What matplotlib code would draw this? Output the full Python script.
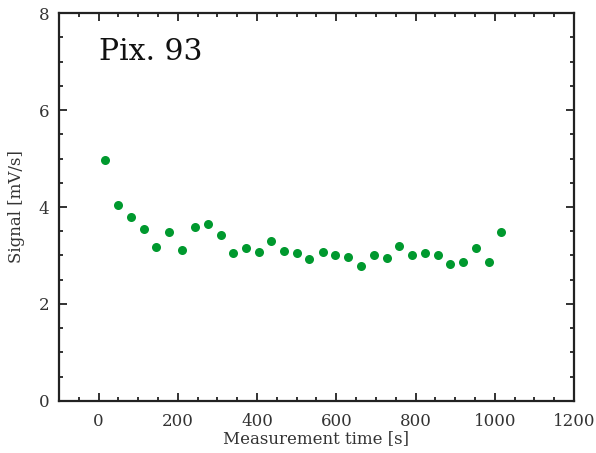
import numpy as np
import matplotlib
matplotlib.use("Agg")
import matplotlib.pyplot as plt
from matplotlib.ticker import MultipleLocator

time_s = [17, 49, 81, 114, 146, 178, 211, 243, 275, 308, 340, 372, 404, 436,
          469, 501, 531, 566, 598, 630, 662, 695, 727, 759, 792, 824, 856,
          888, 921, 953, 985, 1017]
signal = [4.96, 4.04, 3.79, 3.54, 3.18, 3.48, 3.11, 3.59, 3.65, 3.42, 3.05,
          3.16, 3.08, 3.30, 3.09, 3.05, 2.93, 3.08, 3.01, 2.97, 2.79, 3.02,
          2.94, 3.19, 3.02, 3.05, 3.00, 2.83, 2.87, 3.15, 2.87, 3.48]
label = "Pix. 93"

plt.rcParams['font.family'] = ['DejaVu Serif']

fig = plt.figure(figsize=(5.96, 4.53), dpi=100)
ax = fig.add_axes([0.099, 0.115, 0.864, 0.856])

ax.plot(time_s, signal, 'o', color='#00992e', markersize=6.5, markeredgewidth=0)

ax.set_xlim(-100, 1200)
ax.set_ylim(0, 8)
ax.xaxis.set_major_locator(MultipleLocator(200))
ax.xaxis.set_minor_locator(MultipleLocator(50))
ax.yaxis.set_major_locator(MultipleLocator(2))
ax.yaxis.set_minor_locator(MultipleLocator(0.5))
ax.tick_params(which='both', direction='in', top=True, right=True,
               width=1.3, colors='#222222', labelsize=12, labelcolor='#333333')
ax.tick_params(axis='x', which='major', length=6, pad=9)
ax.tick_params(axis='y', which='major', length=6, pad=7)
ax.tick_params(which='minor', length=3)
for s in ax.spines.values():
    s.set_linewidth(1.6)
    s.set_color('#222222')

ax.set_xlabel('Measurement time [s]', fontsize=12, color='#333333', labelpad=0)
ax.set_ylabel('Signal [mV/s]', fontsize=12, color='#333333', labelpad=10)
ax.text(2, 7.2, label, fontsize=21.5, color='#111111', va='center', ha='left')

fig.savefig('out.png', dpi=100)
